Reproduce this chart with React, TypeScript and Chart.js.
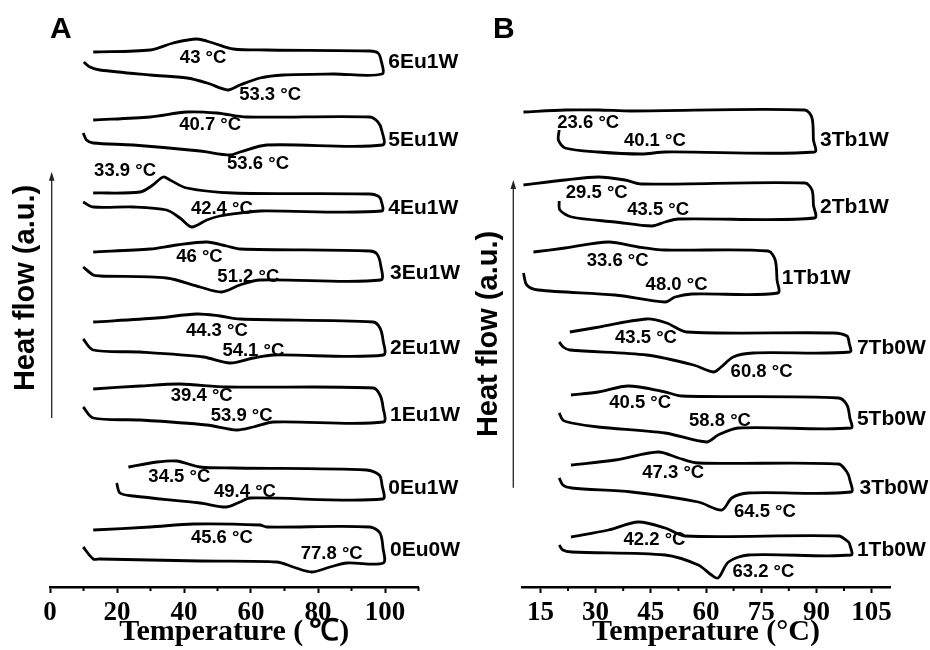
import React, { useEffect, useRef } from "react";
import { Chart, registerables } from "chart.js";
Chart.register(...registerables);

const SANS = '"Liberation Sans", Arial, sans-serif';
const SERIF = '"Liberation Serif", "Times New Roman", serif';

// ---------- Panel A (Eu samples) ----------
const ticksA = [0, 20, 40, 60, 80, 100];
const minorTicksA = [10, 30, 50, 70, 90, 110];

const eu6HeatT = [10.1, 11.9, 14.9, 29.9, 40.9, 46.9, 53.1, 56.7, 62.7, 69.6, 84.5, 99.1];
const eu6HeatH = [528, 523, 520, 515, 512, 507, 500, 505, 512, 515, 516, 516];
const eu6CoolT = [98.8, 97.9, 95.5, 64.7, 54.7, 48.7, 43.8, 36.8, 29.9, 12.9];
const eu6CoolH = [530, 537, 539, 540, 541, 547, 551, 547, 540, 538];

const eu5HeatT = [9.9, 10.9, 12.9, 24.8, 44.8, 53.7, 56.7, 64.7, 99.3];
const eu5HeatH = [457, 450, 447, 445, 439, 435, 438, 445, 445];
const eu5CoolT = [99.0, 97.9, 95.5, 58.7, 49.8, 40.8, 29.9, 12.9];
const eu5CoolH = [460, 468, 473, 473, 477, 478, 473, 470];

const eu4HeatT = [9.9, 12.9, 24.9, 34.8, 38.8, 42.3, 46.8, 50.7, 56.7, 62.7, 99.0];
const eu4HeatH = [388, 383, 383, 380, 372, 363, 370, 374, 377, 379, 379];
const eu4CoolT = [98.8, 97.9, 95.5, 54.6, 40.8, 35.8, 33.8, 30.7, 26.9, 12.9];
const eu4CoolH = [390, 394, 396, 397, 402, 410, 413, 405, 398, 397];

const eu3HeatT = [9.9, 12.9, 14.9, 34.8, 44.8, 51.2, 56.7, 62.7, 98.7];
const eu3HeatH = [323, 315, 314, 312, 303, 298, 305, 310, 310];
const eu3CoolT = [98.7, 97.6, 95.5, 56.7, 52.7, 46.8, 37.8, 29.9, 12.9];
const eu3CoolH = [325, 336, 339, 341, 344, 348, 345, 341, 338];

const eu2HeatT = [9.9, 12.9, 26.9, 45.8, 53.7, 60.7, 66.7, 99.5];
const eu2HeatH = [251, 240, 238, 233, 227, 232, 235, 235];
const eu2CoolT = [99.4, 98.5, 96.5, 56.7, 50.7, 43.8, 31.9, 12.9];
const eu2CoolH = [250, 262, 268, 271, 274, 276, 272, 268];

const eu1HeatT = [9.9, 12.9, 26.9, 46.8, 55.7, 60.7, 66.7, 99.5];
const eu1HeatH = [183, 172, 170, 165, 160, 163, 168, 168];
const eu1CoolT = [99.4, 98.5, 96.5, 52.7, 38.8, 26.9, 12.9];
const eu1CoolH = [183, 195, 202, 203, 206, 204, 201];

const eu0w1HeatT = [19.9, 20.9, 24.9, 44.8, 52.7, 56.7, 59.7, 99.3];
const eu0w1HeatH = [107, 97, 94, 87, 83, 88, 92, 91];
const eu0w1CoolT = [99.1, 98.3, 94.5, 54.7, 44.8, 37.8, 31.9, 23.4];
const eu0w1CoolH = [105, 115, 120, 122, 123, 129, 128, 123];

const eu0w0HeatT = [9.9, 12.9, 14.9, 44.8, 67.7, 72.6, 78.1, 83.6, 88.6, 99.5];
const eu0w0HeatH = [43, 31, 31, 29, 28, 23, 18, 23, 27, 27];
const eu0w0CoolT = [99.4, 98.5, 95.5, 64.7, 62.7, 42.8, 29.9, 12.9];
const eu0w0CoolH = [42, 57, 63, 63, 65, 66, 63, 60];

const namesA = ["6Eu1W", "5Eu1W", "4Eu1W", "3Eu1W", "2Eu1W", "1Eu1W", "0Eu1W", "0Eu0W"];
const nameTA = [101, 101, 101, 101.5, 101.5, 101.5, 101, 101.5];
const nameHA = [528, 450, 382, 317, 242, 175, 102, 40];

const peakTextA = ["43 °C", "53.3 °C", "40.7 °C", "53.6 °C", "33.9 °C", "42.4 °C", "46 °C", "51.2 °C",
  "44.3 °C", "54.1 °C", "39.4 °C", "53.9 °C", "34.5 °C", "49.4 °C", "45.6 °C", "77.8 °C"];
const peakTA = [45.7, 65.7, 47.8, 62.1, 22.4, 51.3, 44.6, 59.2, 49.8, 60.7, 45.3, 57.2, 38.6, 58.2, 51.3, 84.1];
const peakHA = [532, 495, 465, 426, 419, 381, 333, 313, 259, 239, 194, 174, 113, 98, 52, 36];

// ---------- Panel B (Tb samples) ----------
const ticksB = [15, 30, 45, 60, 75, 90, 105];
const minorTicksB = [22.5, 37.5, 52.5, 67.5, 82.5, 97.5];

const tb3w1HeatT = [20.1, 19.9, 21.7, 30.7, 42.5, 48.9, 89.5];
const tb3w1HeatH = [457, 447, 439, 435, 433, 435, 435];
const tb3w1CoolT = [89.2, 88.8, 86.9, 39.8, 30.7, 21.7, 10.4];
const tb3w1CoolH = [447, 469, 477, 476, 477, 477, 475];

const tb2w1HeatT = [20.1, 20.3, 23.5, 35.3, 45.3, 48.9, 52.5, 89.5];
const tb2w1HeatH = [386, 377, 370, 365, 361, 365, 368, 369];
const tb2w1CoolT = [89.2, 88.8, 86.9, 42.5, 38.0, 30.7, 21.7, 10.4];
const tb2w1CoolH = [382, 397, 404, 403, 407, 410, 407, 402];

const tb1w1HeatT = [10.4, 11.3, 14.4, 35.3, 48.9, 51.6, 56.1, 79.5];
const tb1w1HeatH = [314, 302, 297, 292, 285, 290, 293, 294];
const tb1w1CoolT = [79.3, 78.8, 76.9, 48.9, 41.6, 33.5, 21.7, 13.1];
const tb1w1CoolH = [307, 327, 336, 337, 340, 345, 339, 335];

const tb7w0HeatT = [20.1, 21.2, 23.0, 43.9, 56.6, 62.0, 63.8, 67.4, 72.8, 99.1];
const tb7w0HeatH = [245, 240, 237, 232, 222, 215, 219, 230, 234, 235];
const tb7w0CoolT = [98.9, 98.3, 94.6, 54.8, 49.3, 43.9, 29.4, 23.0];
const tb7w0CoolH = [244, 251, 254, 255, 264, 268, 259, 255];

const tb5w0HeatT = [20.1, 21.1, 23.5, 30.7, 48.9, 60.2, 63.3, 68.8, 99.4];
const tb5w0HeatH = [174, 167, 164, 160, 154, 145, 152, 159, 159];
const tb5w0CoolT = [99.1, 98.3, 96.0, 53.4, 48.9, 38.9, 30.7, 23.3];
const tb5w0CoolH = [169, 182, 189, 191, 195, 201, 195, 192];

const tb3w0HeatT = [20.1, 21.1, 23.5, 39.8, 57.9, 64.3, 67.0, 71.5, 99.4];
const tb3w0HeatH = [109, 102, 99, 95, 85, 77, 89, 94, 95];
const tb3w0CoolT = [99.1, 98.3, 96.0, 57.9, 52.5, 47.0, 35.3, 23.3];
const tb3w0CoolH = [107, 115, 123, 124, 129, 135, 127, 122];

const tb1w0HeatT = [20.1, 21.1, 23.5, 48.9, 57.9, 61.5, 63.3, 66.1, 71.5, 99.4];
const tb1w0HeatH = [42, 37, 35, 32, 22, 12, 9, 25, 32, 32];
const tb1w0CoolT = [99.1, 98.7, 96.0, 54.3, 48.9, 41.6, 33.5, 23.3];
const tb1w0CoolH = [42, 45, 51, 51, 59, 65, 57, 50];

const namesB = ["3Tb1W", "2Tb1W", "1Tb1W", "7Tb0W", "5Tb0W", "3Tb0W", "1Tb0W"];
const nameTB = [91.0, 91.0, 80.6, 101.0, 101.0, 101.7, 101.0];
const nameHB = [447, 380, 309, 239, 168, 99, 37];

const peakTextB = ["23.6 °C", "40.1 °C", "29.5 °C", "43.5 °C", "33.6 °C", "48.0 °C", "43.5 °C", "60.8 °C",
  "40.5 °C", "58.8 °C", "47.3 °C", "64.5 °C", "42.2 °C", "63.2 °C"];
const peakTB = [28.0, 46.1, 30.3, 47.0, 36.0, 52.0, 43.7, 75.1, 42.1, 63.8, 51.1, 76.0, 46.0, 75.6];
const peakHB = [464, 446, 394, 377, 326, 302, 249, 215, 184, 166, 114, 75, 47, 15];

type Curve = { heatT: number[]; heatH: number[]; coolT: number[]; coolH: number[] };

const curvesA: Curve[] = [
  { heatT: eu6HeatT, heatH: eu6HeatH, coolT: eu6CoolT, coolH: eu6CoolH },
  { heatT: eu5HeatT, heatH: eu5HeatH, coolT: eu5CoolT, coolH: eu5CoolH },
  { heatT: eu4HeatT, heatH: eu4HeatH, coolT: eu4CoolT, coolH: eu4CoolH },
  { heatT: eu3HeatT, heatH: eu3HeatH, coolT: eu3CoolT, coolH: eu3CoolH },
  { heatT: eu2HeatT, heatH: eu2HeatH, coolT: eu2CoolT, coolH: eu2CoolH },
  { heatT: eu1HeatT, heatH: eu1HeatH, coolT: eu1CoolT, coolH: eu1CoolH },
  { heatT: eu0w1HeatT, heatH: eu0w1HeatH, coolT: eu0w1CoolT, coolH: eu0w1CoolH },
  { heatT: eu0w0HeatT, heatH: eu0w0HeatH, coolT: eu0w0CoolT, coolH: eu0w0CoolH },
];

const curvesB: Curve[] = [
  { heatT: tb3w1HeatT, heatH: tb3w1HeatH, coolT: tb3w1CoolT, coolH: tb3w1CoolH },
  { heatT: tb2w1HeatT, heatH: tb2w1HeatH, coolT: tb2w1CoolT, coolH: tb2w1CoolH },
  { heatT: tb1w1HeatT, heatH: tb1w1HeatH, coolT: tb1w1CoolT, coolH: tb1w1CoolH },
  { heatT: tb7w0HeatT, heatH: tb7w0HeatH, coolT: tb7w0CoolT, coolH: tb7w0CoolH },
  { heatT: tb5w0HeatT, heatH: tb5w0HeatH, coolT: tb5w0CoolT, coolH: tb5w0CoolH },
  { heatT: tb3w0HeatT, heatH: tb3w0HeatH, coolT: tb3w0CoolT, coolH: tb3w0CoolH },
  { heatT: tb1w0HeatT, heatH: tb1w0HeatH, coolT: tb1w0CoolT, coolH: tb1w0CoolH },
];

function loop(c: Curve) {
  const pts: { x: number; y: number }[] = [];
  c.heatT.forEach((t, i) => pts.push({ x: t, y: c.heatH[i] }));
  c.coolT.forEach((t, i) => pts.push({ x: t, y: c.coolH[i] }));
  return pts;
}

type PanelCfg = {
  left: number;
  padLeft: number;
  padRight: number;
  xMin: number;
  xMax: number;
  yMin: number;
  yMax: number;
  ticks: number[];
  minor: number[];
  xTitle: string;
  curves: Curve[];
  names: string[];
  nameT: number[];
  nameH: number[];
  peakText: string[];
  peakT: number[];
  peakH: number[];
  letter: string;
  letterX: number;
  yTitleX: number;
  yTitleY: number;
  arrowX: number;
  arrowTop: number;
  arrowBottom: number;
};

const panelA: PanelCfg = {
  left: 0, padLeft: 50, padRight: 46.5, xMin: 0, xMax: 110, yMin: 3, yMax: 560,
  ticks: ticksA, minor: minorTicksA, xTitle: "Temperature (\u2009\u2103)", curves: curvesA,
  names: namesA, nameT: nameTA, nameH: nameHA, peakText: peakTextA, peakT: peakTA, peakH: peakHA,
  letter: "A", letterX: 50, yTitleX: 26, yTitleY: 288, arrowX: 51.7, arrowTop: 171.7, arrowBottom: 418,
};

const panelB: PanelCfg = {
  left: 465, padLeft: 57, padRight: 40, xMin: 10, xMax: 110, yMin: 0, yMax: 557,
  ticks: ticksB, minor: minorTicksB, xTitle: "Temperature (\u00B0C)", curves: curvesB,
  names: namesB, nameT: nameTB, nameH: nameHB, peakText: peakTextB, peakT: peakTB, peakH: peakHB,
  letter: "B", letterX: 28, yTitleX: 24, yTitleY: 334, arrowX: 48.3, arrowTop: 180, arrowBottom: 487.7,
};

function Panel({ cfg }: { cfg: PanelCfg }) {
  const ref = useRef<HTMLCanvasElement | null>(null);
  useEffect(() => {
    if (!ref.current) return;
    const annot = {
      id: "annot",
      afterDraw(chart: any) {
        const { ctx, chartArea, scales } = chart;
        const x = scales.x;
        const y = scales.y;
        ctx.save();
        ctx.fillStyle = "#000";
        ctx.strokeStyle = "#000";
        // peak temperature labels
        ctx.font = `bold 18.5px ${SANS}`;
        ctx.textAlign = "center";
        ctx.textBaseline = "middle";
        cfg.peakText.forEach((t, i) => {
          ctx.fillText(t, x.getPixelForValue(cfg.peakT[i]), y.getPixelForValue(cfg.peakH[i]));
        });
        // sample names
        ctx.font = `bold 21px ${SANS}`;
        ctx.textAlign = "left";
        cfg.names.forEach((t, i) => {
          ctx.fillText(t, x.getPixelForValue(cfg.nameT[i]), y.getPixelForValue(cfg.nameH[i]));
        });
        // minor ticks
        ctx.lineWidth = 2;
        cfg.minor.forEach((v) => {
          const px = x.getPixelForValue(v);
          ctx.beginPath();
          ctx.moveTo(px, chartArea.bottom);
          ctx.lineTo(px, chartArea.bottom + 4);
          ctx.stroke();
        });
        // panel letter
        ctx.font = `bold 30px ${SANS}`;
        ctx.textAlign = "left";
        ctx.textBaseline = "alphabetic";
        ctx.fillText(cfg.letter, cfg.letterX, 38);
        // y title
        ctx.save();
        ctx.translate(cfg.yTitleX, cfg.yTitleY);
        ctx.rotate(-Math.PI / 2);
        ctx.font = `bold 29px ${SANS}`;
        ctx.textAlign = "center";
        ctx.textBaseline = "middle";
        ctx.fillText("Heat flow (a.u.)", 0, 0);
        ctx.restore();
        // arrow
        ctx.lineWidth = 1.3;
        ctx.strokeStyle = "#222";
        ctx.beginPath();
        ctx.moveTo(cfg.arrowX, cfg.arrowBottom);
        ctx.lineTo(cfg.arrowX, cfg.arrowTop + 6);
        ctx.stroke();
        ctx.fillStyle = "#222";
        ctx.beginPath();
        ctx.moveTo(cfg.arrowX, cfg.arrowTop);
        ctx.lineTo(cfg.arrowX - 2.8, cfg.arrowTop + 9);
        ctx.lineTo(cfg.arrowX + 2.8, cfg.arrowTop + 9);
        ctx.closePath();
        ctx.fill();
        ctx.restore();
      },
    };
    const chart = new Chart(ref.current, {
      type: "scatter",
      data: {
        datasets: cfg.curves.map((c) => ({
          data: loop(c),
          showLine: true,
          borderColor: "#000",
          borderWidth: 2.8,
          pointRadius: 0,
          pointHoverRadius: 0,
          tension: 0.3,
          fill: false,
        })),
      },
      options: {
        responsive: false,
        animation: false,
        events: [],
        layout: { padding: { left: cfg.padLeft, right: cfg.padRight, top: 30, bottom: 0 } },
        plugins: { legend: { display: false }, tooltip: { enabled: false } },
        scales: {
          x: {
            type: "linear",
            min: cfg.xMin,
            max: cfg.xMax,
            afterBuildTicks: (s: any) => {
              s.ticks = cfg.ticks.map((v) => ({ value: v }));
            },
            afterFit: (s: any) => {
              s.height = 63;
            },
            border: { display: true, color: "#000", width: 2.5 },
            grid: {
              display: true,
              drawOnChartArea: false,
              drawTicks: true,
              tickLength: 6,
              tickWidth: 2,
              tickColor: "#000",
            },
            ticks: {
              color: "#000",
              font: { family: SERIF, weight: "bold", size: 27 },
              padding: 4,
              maxRotation: 0,
              autoSkip: false,
            },
            title: {
              display: true,
              text: cfg.xTitle,
              color: "#000",
              font: { family: SERIF, weight: "bold", size: 30 },
              padding: { top: 0, bottom: 0 },
            },
          },
          y: { display: false, min: cfg.yMin, max: cfg.yMax },
        },
      },
      plugins: [annot],
    } as any);
    return () => chart.destroy();
  }, []);
  return (
    <canvas
      ref={ref}
      width={465}
      height={650}
      style={{ position: "absolute", left: cfg.left, top: 0, width: 465, height: 650 }}
    />
  );
}

export default function App() {
  return (
    <div style={{ position: "absolute", left: 0, top: 0, width: 930, height: 650, background: "#fff" }}>
      <Panel cfg={panelA} />
      <Panel cfg={panelB} />
    </div>
  );
}
